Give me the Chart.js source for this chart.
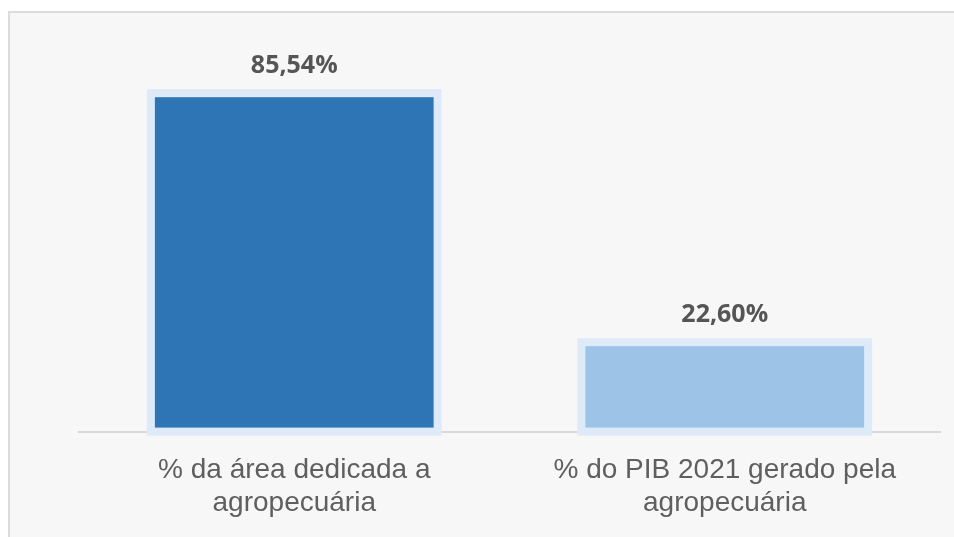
<!DOCTYPE html>
<html lang="pt">
  <head>
    <meta charset="UTF-8" />
    <title>Agropecuária</title>
    <script src="https://cdn.jsdelivr.net/npm/chart.js@4.4.0/dist/chart.umd.min.js"></script>
    <style>
      body { margin: 0; background: #ffffff; }
      #frame {
        position: absolute; left: 8px; top: 11px; width: 960px; height: 540px;
        background: #f7f7f7; border-top: 2px solid #dcdcdc; border-left: 2px solid #dcdcdc;
      }
      #wrap { position: absolute; left: 0; top: 0; width: 954px; height: 537px; }
    </style>
  </head>
  <body>
    <div id="frame"></div>
    <div id="wrap"><canvas id="myChart"></canvas></div>

    <script>
      const categories = [
        ["% da área dedicada a", "agropecuária"],
        ["% do PIB 2021 gerado pela", "agropecuária"],
      ];
      const values = [85.54, 22.6];
      const barColors = ["#2e75b6", "#9dc3e6"];

      // light halo around each bar + value labels on top
      const glowAndLabels = {
        id: "glowAndLabels",
        afterDatasetsDraw(chart) {
          const ctx = chart.ctx;
          const meta = chart.getDatasetMeta(0);
          ctx.save();
          meta.data.forEach((bar, i) => {
            const w = bar.width;
            ctx.strokeStyle = "#deeaf7";
            ctx.lineWidth = 8;
            ctx.strokeRect(bar.x - w / 2, bar.y, w, bar.base - bar.y);
            ctx.fillStyle = "#555555";
            ctx.font = "bold 25px 'Open Sans'";
            ctx.textAlign = "center";
            ctx.textBaseline = "alphabetic";
            ctx.fillText(values[i].toFixed(2).replace(".", ",") + "%", bar.x, bar.y - 20);
          });
          ctx.restore();
        },
      };

      const ctx = document.getElementById("myChart").getContext("2d");
      const myChart = new Chart(ctx, {
        type: "bar",
        data: {
          labels: categories,
          datasets: [
            {
              data: values,
              backgroundColor: barColors,
              borderWidth: 0,
              barPercentage: 0.666,
              categoryPercentage: 1,
            },
          ],
        },
        options: {
          responsive: true,
          maintainAspectRatio: false,
          animation: false,
          layout: { padding: { left: 79, right: 14, top: 36, bottom: 3 } },
          plugins: { legend: { display: false }, tooltip: { enabled: false } },
          scales: {
            y: { display: false, min: 0, max: 100 },
            x: {
              grid: { display: false },
              border: { color: "#d9d9d9", width: 2 },
              ticks: {
                color: "#5f5f5f",
                font: { family: "'Liberation Sans', Arial", size: 28, lineHeight: 1.15 },
                padding: 15,
              },
            },
          },
        },
        plugins: [glowAndLabels],
      });
    </script>
  </body>
</html>
